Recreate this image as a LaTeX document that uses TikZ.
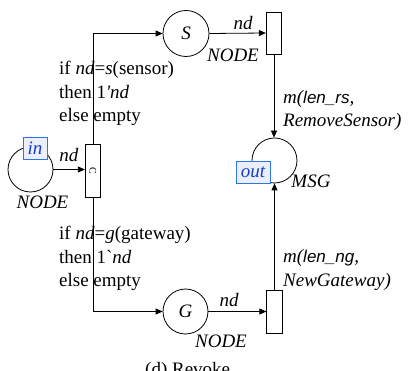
\documentclass[tikz,border=0pt]{standalone}
\usepackage{fontspec}
\setmainfont{Liberation Serif}
\newfontfamily\lsans{Liberation Sans}
\usetikzlibrary{arrows.meta}
\definecolor{tagblue}{RGB}{45,115,240}
\definecolor{tagfill}{RGB}{234,239,250}
\definecolor{tagtext}{RGB}{25,60,205}
\newcommand{\lsn}[1]{{\lsans\fontsize{17}{23}\selectfont\itshape #1}}
\begin{document}
\begin{tikzpicture}[x=1pt,y=-1pt,
  font=\fontsize{19}{23.5}\selectfont,
  every node/.style={inner sep=0pt},
  place/.style={draw,circle,line width=0.8pt,minimum size=45pt},
  trans/.style={draw,rectangle,line width=0.8pt,minimum width=15.5pt},
  tag/.style={draw=tagblue,fill=tagfill,line width=0.9pt,text=tagtext,font=\fontsize{19}{23.5}\selectfont\itshape,minimum height=22pt},
  arc/.style={line width=0.8pt,-{Triangle[length=7pt,width=6pt]}},
  lbl/.style={font=\fontsize{19}{23.5}\selectfont\itshape},
  guard/.style={align=left,anchor=north west}]
\useasboundingbox (0,0) rectangle (413,371);

% places
\node[place] (inP) at (30.5,169.5) {};
\node[tag,minimum width=24pt] (inTag) at (35,148) {in};
\node[place,minimum size=46pt] (S) at (186,33.5) {};
\node at (S) [lbl] {S};
\node[place] (G) at (185.5,311.5) {};
\node at (G) [lbl] {G};
\node[place] (outP) at (274.5,160.5) {};
\node[tag,minimum width=34pt] (outTag) at (253,172) {out};

% transitions
\node[trans,minimum height=53pt] (C) at (93,171) {};
\node[rotate=-90,font=\fontsize{10}{10}\selectfont] (Cname) at (C) {C};
\node[trans,minimum height=42pt] (tRS) at (274,33) {};
\node[trans,minimum height=43pt] (tNG) at (274.5,311.5) {};

% arcs
\draw[arc] (inP.east) -- (C.west |- inP.east);
\draw[arc] (C.north) |- (S.west);
\draw[arc] (C.south) |- (G.west);
\draw[arc] (S.east) -- (tRS.west);
\draw[arc] (G.east) -- (tNG.west);
\draw[arc] (tRS.south) -- (tRS.south |- outP.north);
\draw[arc] (tNG.north) -- (tNG.north |- outP.south);

% labels
\node[lbl] (lin) at (69,155) {nd};
\node[lbl] (Nin) at (42.5,202) {NODE};
\node[lbl] (ls) at (243,23) {nd};
\node[lbl] (Ns) at (233,55) {NODE};
\node[lbl] (lg) at (229,300) {nd};
\node[lbl] (Ng) at (221,341) {NODE};
\node[lbl] (msg) at (311,181) {MSG};

\node[guard] (gs) at (59,61) {if \textit{nd}=\textit{s}(sensor)\\then 1\textit{\textquotesingle nd}\\else empty};
\node[guard] (gg) at (59,226) {if \textit{nd}=\textit{g}(gateway)\\then 1\textasciigrave\textit{nd}\\else empty};

\node[guard,lbl] (mrs) at (283,90) {m(\lsn{len\_rs},\\RemoveSensor)};
\node[guard,lbl] (mng) at (283,249.5) {m(\lsn{len\_ng},\\NewGateway)};

\node[anchor=base west] (cap) at (145,376) {(d) Revoke};
\end{tikzpicture}
\end{document}
